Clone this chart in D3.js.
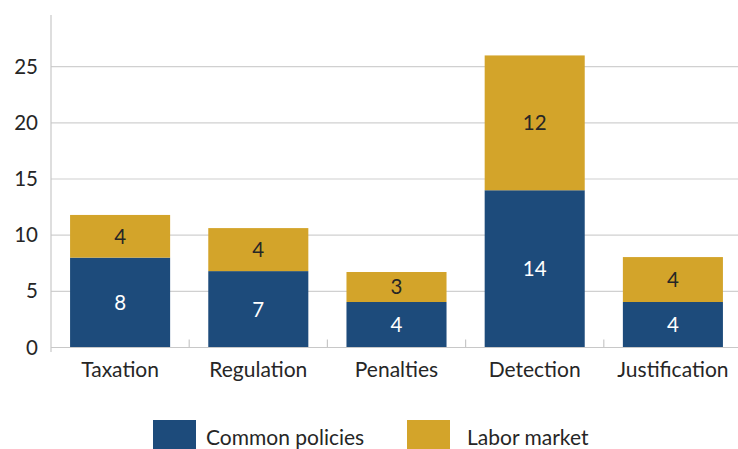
<!DOCTYPE html>
<html><head><meta charset="utf-8">
<script src="https://cdn.jsdelivr.net/npm/d3@7"></script>
<style>body{margin:0;background:#fff}svg{display:block;font-family:Lato,"Open Sans",sans-serif}</style>
</head><body><svg id="c" width="738" height="449"></svg>
<script>
const categories = ["Taxation","Regulation","Penalties","Detection","Justification"];
const commonPolicies = [8.0, 6.8, 4.05, 14.0, 4.05];
const laborMarket = [3.8, 3.83, 2.67, 12.0, 4.0];
const seriesNames = ["Common policies","Labor market"];
const yTicks = [0,5,10,15,20,25];
const colors = ["#1d4b7b","#d3a42a"];

const svg = d3.select("#c");
const pLeft = 51, pRight = 742, pTop = 15, pBottom = 347.5;
const y = d3.scaleLinear().domain([0, 29.6]).range([pBottom, pTop]);
const x = d3.scaleBand().domain(categories).range([pLeft, pRight]).paddingInner(0.276).paddingOuter(0.138);

const rows = categories.map((c,i)=>({cat:c, a:commonPolicies[i], b:laborMarket[i]}));
const stack = d3.stack().keys(["a","b"])(rows);

// gridlines
svg.append("g").selectAll("line").data(yTicks.filter(d=>d>0)).join("line")
  .attr("x1", pLeft).attr("x2", 738).attr("y1", d=>y(d)).attr("y2", d=>y(d))
  .attr("stroke", "#d0d0d0").attr("stroke-width", 1.2);

// bars
const g = svg.append("g");
stack.forEach((s,si)=>{
  g.append("g").selectAll("rect").data(s).join("rect")
    .attr("x", d=>x(d.data.cat)).attr("width", x.bandwidth())
    .attr("y", d=>y(d[1])).attr("height", d=>y(d[0])-y(d[1]))
    .attr("fill", colors[si]);
  g.append("g").selectAll("text").data(s).join("text")
    .attr("x", d=>x(d.data.cat)+x.bandwidth()/2)
    .attr("y", d=>(y(d[0])+y(d[1]))/2)
    .attr("dy", "0.36em").attr("text-anchor","middle")
    .attr("font-size", 20.5)
    .attr("fill", si===0 ? "#ffffff" : "#262626")
    .text(d=>d3.format(".0f")(d[1]-d[0]));
});

// y axis
const ya = d3.axisLeft(y).tickValues(yTicks).tickSize(0).tickPadding(13);
const yg = svg.append("g").attr("transform",`translate(${pLeft},0)`).call(ya);
yg.select(".domain").remove();
yg.selectAll("text").attr("font-size",20.5).attr("fill","#262626").attr("font-family","Lato,sans-serif");
svg.append("line").attr("x1",pLeft).attr("x2",pLeft).attr("y1",pTop).attr("y2",pBottom+4.5)
  .attr("stroke","#c8c8c8").attr("stroke-width",1.2);

// x axis
svg.append("line").attr("x1",pLeft).attr("x2",738).attr("y1",pBottom).attr("y2",pBottom)
  .attr("stroke","#c8c8c8").attr("stroke-width",1.2);
const step = x.step();
svg.append("g").selectAll("line").data(categories.slice(1)).join("line")
  .attr("x1", d=>x(d)-step*0.138).attr("x2", d=>x(d)-step*0.138)
  .attr("y1", pBottom-8).attr("y2", pBottom).attr("stroke","#c8c8c8").attr("stroke-width",1.2);
const xl = svg.append("g").selectAll("text").data(categories).join("text")
  .attr("x", d=>x(d)+x.bandwidth()/2).attr("y", 369).attr("dy","0.36em")
  .attr("text-anchor","middle").attr("font-size",21).attr("fill","#262626").text(d=>d);
// keep labels inside the canvas
xl.each(function(){
  const bb = this.getBBox();
  if (bb.x + bb.width > 737) d3.select(this).attr("x", +d3.select(this).attr("x") - (bb.x + bb.width - 737));
});

// legend
const lg = svg.append("g");
const lx = [153, 407];
seriesNames.forEach((n,i)=>{
  lg.append("rect").attr("x", lx[i]).attr("y", 420).attr("width", 43).attr("height", 30).attr("fill", colors[i]);
  lg.append("text").attr("x", lx[i] + (i===0?53:60)).attr("y", 437.5).attr("dy","0.36em")
    .attr("font-size",21).attr("fill","#262626").text(n);
});
</script></body></html>
